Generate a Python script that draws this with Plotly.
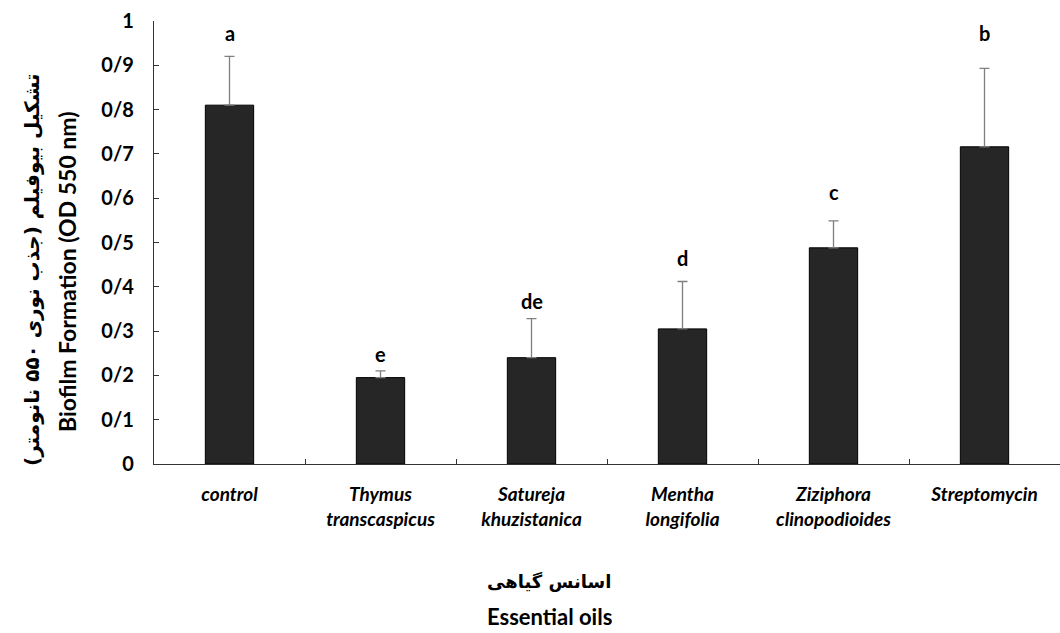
import plotly.graph_objects as go

# Biofilm formation (OD 550 nm) for each treatment
categories = [
    "control",
    "Thymus<br>transcaspicus",
    "Satureja<br>khuzistanica",
    "Mentha<br>longifolia",
    "Ziziphora<br>clinopodioides",
    "Streptomycin",
]
means = [0.81, 0.195, 0.24, 0.305, 0.488, 0.716]
errors = [0.11, 0.015, 0.088, 0.107, 0.061, 0.177]
letters = ["a", "e", "de", "d", "c", "b"]

y_tickvals = [0, 0.1, 0.2, 0.3, 0.4, 0.5, 0.6, 0.7, 0.8, 0.9, 1.0]
y_ticktext = ["0", "0/1", "0/2", "0/3", "0/4", "0/5", "0/6", "0/7", "0/8", "0/9", "1"]

# canvas geometry (px)
W, H = 1060, 633
M_L, M_R, M_T, M_B = 154, 0, 21, 169
PLOT_H = H - M_T - M_B

# height at which each significance letter sits (data units)
letter_heights = [0.974, 0.249, 0.367, 0.466, 0.615, 0.972]

LATIN = "Lato, 'Open Sans', sans-serif"
ARABIC = "'DejaVu Sans', sans-serif"
RLM = "\u200f"


def py(px):
    """Convert a pixel row on the canvas to paper y."""
    return (H - M_B - px) / PLOT_H


def px_x(px):
    return (px - M_L) / (W - M_L - M_R)


fig = go.Figure()
fig.add_trace(
    go.Bar(
        x=categories,
        y=means,
        width=0.32,
        marker=dict(color="#262626", line=dict(color="#000000", width=1)),
        error_y=dict(
            type="data",
            array=errors,
            arrayminus=[0] * len(errors),
            symmetric=False,
            color="#7f7f7f",
            thickness=1.3,
            width=5,
        ),
    )
)

for cat, lab, h in zip(categories, letters, letter_heights):
    fig.add_annotation(
        x=cat, y=h, xref="x", yref="y", text=lab, showarrow=False,
        font=dict(family=LATIN, size=20, color="#000000", weight="bold"),
        yanchor="middle",
    )

# y-axis title (Persian + English), rotated
fig.add_annotation(
    x=px_x(32), y=py(270), xref="paper", yref="paper",
    text=RLM + "تشکیل بیوفیلم (جذب نوری ۵۵۰ نانومتر)" + RLM,
    textangle=-90, showarrow=False, xanchor="center", yanchor="middle",
    font=dict(family=ARABIC, size=20, color="#000000", weight="bold"),
)
fig.add_annotation(
    x=px_x(67), y=py(272), xref="paper", yref="paper",
    text="Biofilm Formation (OD 550 nm)",
    textangle=-90, showarrow=False, xanchor="center", yanchor="middle",
    font=dict(family=LATIN, size=23, color="#000000", weight="bold"),
)

# x-axis title (Persian + English)
fig.add_annotation(
    x=px_x(549), y=py(581), xref="paper", yref="paper",
    text=RLM + "اسانس گیاهی" + RLM, showarrow=False,
    xanchor="center", yanchor="middle",
    font=dict(family=ARABIC, size=18, color="#000000", weight="bold"),
)
fig.add_annotation(
    x=px_x(549), y=py(616), xref="paper", yref="paper",
    text="Essential oils", showarrow=False,
    xanchor="center", yanchor="middle",
    font=dict(family=LATIN, size=22, color="#000000", weight="bold"),
)

fig.update_layout(
    width=W, height=H,
    margin=dict(l=M_L, r=M_R, t=M_T, b=M_B, pad=0),
    paper_bgcolor="white", plot_bgcolor="white",
    showlegend=False,
    bargap=0.68,
)
fig.update_xaxes(
    type="category",
    showline=True, linecolor="#333333", linewidth=1.3,
    ticks="inside", tickson="boundaries", ticklen=5, tickcolor="#333333", tickwidth=1.3,
    showgrid=False, zeroline=False,
    tickfont=dict(family=LATIN, size=19, color="#000000", weight="bold", style="italic"),
    ticklabelstandoff=13,
)
fig.update_yaxes(
    range=[0, 1],
    tickvals=y_tickvals, ticktext=y_ticktext,
    showline=True, linecolor="#333333", linewidth=1.3,
    ticks="inside", ticklen=5, tickcolor="#333333", tickwidth=1.3,
    showgrid=False, zeroline=False,
    tickfont=dict(family=LATIN, size=20, color="#000000", weight="bold"),
    ticklabelstandoff=15,
)

fig.write_html("out.html")
